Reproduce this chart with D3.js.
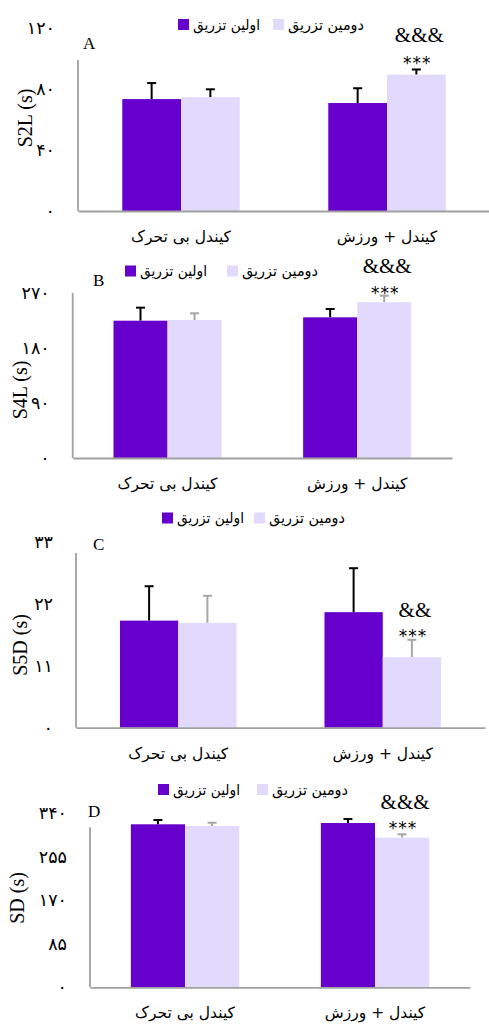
<!DOCTYPE html>
<html><head><meta charset="utf-8">
<script src="https://cdn.jsdelivr.net/npm/d3@7"></script>
<style>
html,body{margin:0;padding:0;background:#fff;}
svg{display:block;}
</style></head>
<body>
<svg id="chart" width="489" height="1026"></svg>
<script>
// ---------- DATA ----------
const categories = ["کیندل بی تحرک", "کیندل + ورزش"];
const seriesNames = ["اولین تزریق", "دومین تزریق"];

const s2lFirst = [73.4, 70.8];
const s2lSecond = [74.6, 89.4];
const s2lErrFirst = [10.5, 9.7];
const s2lErrSecond = [5.2, 3.4];
const s2lTicks = [0, 40, 80, 120];
const s2lTickLabels = ["۰", "۴۰", "۸۰", "۱۲۰"];

const s4lFirst = [224.7, 230.2];
const s4lSecond = [225.8, 254.8];
const s4lErrFirst = [21.3, 13.6];
const s4lErrSecond = [11.0, 10.8];
const s4lTicks = [0, 90, 180, 270];
const s4lTickLabels = ["۰", "۹۰", "۱۸۰", "۲۷۰"];

const s5dFirst = [19.0, 20.5];
const s5dSecond = [18.6, 12.5];
const s5dErrFirst = [6.1, 7.8];
const s5dErrSecond = [4.8, 3.1];
const s5dTicks = [0, 11, 22, 33];
const s5dTickLabels = ["۰", "۱۱", "۲۲", "۳۳"];

const sdFirst = [318.5, 321.0];
const sdSecond = [315.2, 292.3];
const sdErrFirst = [8.4, 7.8];
const sdErrSecond = [6.4, 6.7];
const sdTicks = [0, 85, 170, 255, 340];
const sdTickLabels = ["۰", "۸۵", "۱۷۰", "۲۵۵", "۳۴۰"];

const panelLetters = ["A", "B", "C", "D"];
const yTitles = ["S2L (s)", "S4L (s)", "S5D (s)", "SD (s)"];
const sigMarks = [["&&&", "***"], ["&&&", "***"], ["&&", "***"], ["&&&", "***"]];

// ---------- LAYOUT / STYLE ----------
const colors = ["#6600CC", "#E1DAFD"];
const errColors = [["#000", "#000"], ["#000", "#A6A6A6"], ["#000", "#A6A6A6"], ["#000", "#A6A6A6"]];
const legendTextWidths = [67, 76];
const layouts = [
  {x0: 78, x1: 490, yBase: 211, yMaxPx: 28, axisTop: 99, legX: 178, legX2: 273, legY: 24.5,
   letterX: 83, letterY: 43, titleX: 25, titleY: 118, ampDy: 22, starDy: 12},
  {x0: 72.7, x1: 452, yBase: 458, yMaxPx: 293, axisTop: 270, legX: 125, legX2: 227, legY: 271,
   letterX: 93, letterY: 280, titleX: 20, titleY: 390, ampDy: 21.5, starDy: 8},
  {x0: 76, x1: 485, yBase: 727.7, yMaxPx: 541.7, axisTop: 31, legX: 162, legX2: 254, legY: 518,
   letterX: 93, letterY: 544, titleX: 20, titleY: 645, ampDy: 21.5, starDy: 8.5},
  {x0: 90, x1: 470, yBase: 987.3, yMaxPx: 813.3, axisTop: 312.6, legX: 158, legX2: 257, legY: 789.5,
   letterX: 88, letterY: 811, titleX: 17, titleY: 898, ampDy: 21.5, starDy: 11}
];

const panels = [
  {first: s2lFirst, second: s2lSecond, errF: s2lErrFirst, errS: s2lErrSecond, ticks: s2lTicks, tickLabels: s2lTickLabels},
  {first: s4lFirst, second: s4lSecond, errF: s4lErrFirst, errS: s4lErrSecond, ticks: s4lTicks, tickLabels: s4lTickLabels},
  {first: s5dFirst, second: s5dSecond, errF: s5dErrFirst, errS: s5dErrSecond, ticks: s5dTicks, tickLabels: s5dTickLabels},
  {first: sdFirst, second: sdSecond, errF: sdErrFirst, errS: sdErrSecond, ticks: sdTicks, tickLabels: sdTickLabels}
];

const serif = "'Liberation Serif', 'Times New Roman', serif";
const persian = "'DejaVu Sans', 'Noto Sans', sans-serif";
const svg = d3.select("#chart");

panels.forEach((p, pi) => {
  const L = layouts[pi];
  const g = svg.append("g");
  const tMax = p.ticks[p.ticks.length - 1];
  const x = d3.scaleBand().domain(categories).range([L.x0, L.x1]).paddingInner(0.43).paddingOuter(0.215);
  const xs = d3.scaleBand().domain([0, 1]).range([0, x.bandwidth()]);
  const y = d3.scaleLinear().domain([0, tMax]).range([L.yBase, L.yMaxPx]);

  const rows = [];
  categories.forEach((c, ci) => {
    rows.push({c, s: 0, v: p.first[ci], e: p.errF[ci], ci});
    rows.push({c, s: 1, v: p.second[ci], e: p.errS[ci], ci});
  });

  // error bars
  rows.forEach(r => {
    const cx = x(r.c) + xs(r.s) + xs.bandwidth() / 2;
    const col = errColors[pi][r.s];
    g.append("line").attr("x1", cx).attr("x2", cx).attr("y1", y(r.v)).attr("y2", y(r.v + r.e))
      .attr("stroke", col).attr("stroke-width", 2);
    g.append("line").attr("x1", cx - 4.5).attr("x2", cx + 4.5).attr("y1", y(r.v + r.e)).attr("y2", y(r.v + r.e))
      .attr("stroke", col).attr("stroke-width", 2);
  });

  g.selectAll("rect.bar").data(rows).enter().append("rect")
    .attr("x", r => x(r.c) + xs(r.s))
    .attr("y", r => y(r.v))
    .attr("width", xs.bandwidth())
    .attr("height", r => y(0) - y(r.v))
    .attr("fill", r => colors[r.s]);

  // y axis
  const ya = g.append("g").attr("transform", `translate(${L.x0},0)`)
    .call(d3.axisLeft(y).tickValues(p.ticks).tickFormat((d, i) => p.tickLabels[i]).tickSize(0).tickPadding(23));
  ya.select(".domain").remove();
  ya.selectAll("text").attr("font-family", persian).attr("font-size", 17.5).attr("fill", "#000");
  g.append("line").attr("x1", L.x0).attr("x2", L.x0).attr("y1", y(0)).attr("y2", y(L.axisTop))
    .attr("stroke", "#A0A0A0").attr("stroke-width", 1.8);

  // x axis
  const xa = g.append("g").attr("transform", `translate(0,${y(0)})`)
    .call(d3.axisBottom(x).tickSize(0).tickSizeOuter(0).tickPadding(20));
  xa.select(".domain").attr("stroke", "#A0A0A0").attr("stroke-width", 1.8);
  xa.selectAll("text").attr("font-family", persian).attr("font-size", 15.5).attr("fill", "#000");

  // y title
  g.append("text").attr("transform", `translate(${L.titleX},${L.titleY}) rotate(-90)`)
    .attr("text-anchor", "middle").attr("dominant-baseline", "central")
    .attr("font-family", serif).attr("font-size", 20).text(yTitles[pi]);

  // panel letter
  g.append("text").attr("x", L.letterX).attr("y", L.letterY).attr("dominant-baseline", "central")
    .attr("font-family", serif).attr("font-size", 17).text(panelLetters[pi]);

  // legend
  [L.legX, L.legX2].forEach((lx, si) => {
    g.append("rect").attr("x", lx).attr("y", L.legY - 5.5).attr("width", 11).attr("height", 11).attr("fill", colors[si]);
    g.append("text").attr("x", lx + 15).attr("y", L.legY).attr("dominant-baseline", "central")
      .attr("font-family", persian).attr("font-size", 15).attr("fill", "#000")
      .attr("textLength", legendTextWidths[si]).attr("lengthAdjust", "spacingAndGlyphs")
      .text(seriesNames[si]);
  });

  // significance marks
  const cx = x(categories[1]) + xs(1) + xs.bandwidth() / 2;
  const errTop = y(p.second[1] + p.errS[1]);
  g.append("text").attr("x", cx + 1).attr("y", errTop - L.starDy).attr("text-anchor", "middle")
    .attr("dominant-baseline", "central").attr("font-family", persian).attr("font-size", 17)
    .attr("letter-spacing", 1).attr("dy", "0.3em").text(sigMarks[pi][1]);
  g.append("text").attr("x", cx + 3).attr("y", errTop - L.starDy - L.ampDy).attr("text-anchor", "middle")
    .attr("dominant-baseline", "central").attr("font-family", serif).attr("font-size", 21)
    .text(sigMarks[pi][0]);
});
</script>
</body></html>
